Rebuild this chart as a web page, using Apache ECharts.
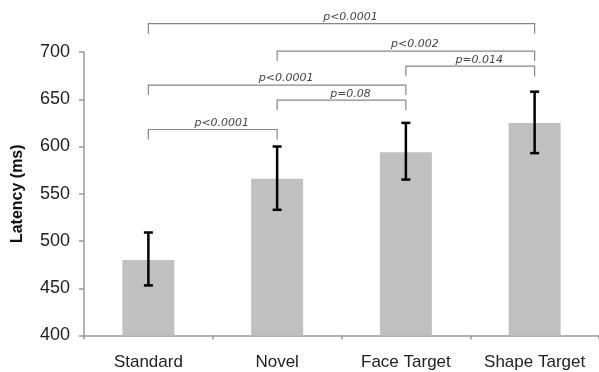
<!DOCTYPE html>
<html><head><meta charset="utf-8">
<script src="https://cdn.jsdelivr.net/npm/echarts@6/dist/echarts.min.js"></script>
<style>html,body{margin:0;padding:0;background:#fff}#c{width:599px;height:372px}</style>
</head><body><div id="c"></div>
<script>
// ---- data ----
const categories = ['Standard', 'Novel', 'Face Target', 'Shape Target'];
const meanLatency = [480, 566, 594, 625];
const errLow = [453, 533, 565, 593];
const errHigh = [509, 600, 625, 658];
const yMin = 400, yMax = 700, yStep = 50;
const bracketFrom = [0, 1, 2, 0, 1, 0];
const bracketTo = [3, 3, 3, 2, 2, 1];
const bracketLevel = [730, 701, 685, 665, 649, 618];
const bracketLabel = ['p<0.0001', 'p<0.002', 'p=0.014', 'p<0.0001', 'p=0.08', 'p<0.0001'];

// ---- chart ----
const chart = echarts.init(document.getElementById('c'), null, {renderer: 'canvas'});
const font = '"Liberation Sans", Arial, Helvetica, sans-serif';
const STEM = 10, CAP = 4.5, LABEL_SHIFT = 9;

chart.setOption({
  animation: false,
  backgroundColor: '#fff',
  grid: {left: 84, top: 52, width: 518, height: 283.5, containLabel: false},
  xAxis: {
    type: 'category', data: categories,
    axisLine: {lineStyle: {color: '#999', width: 1.5}},
    axisTick: {show: true, length: 4, alignWithLabel: false, lineStyle: {color: '#999', width: 1.5}},
    axisLabel: {interval: 0, fontSize: 17, color: '#222', margin: 18, fontFamily: font}
  },
  yAxis: {
    type: 'value', min: yMin, max: yMax, interval: yStep,
    name: 'Latency (ms)', nameLocation: 'middle', nameGap: 58, nameRotate: 90,
    nameTextStyle: {fontSize: 16, fontWeight: 'bold', color: '#111', fontFamily: font},
    axisLine: {show: true, lineStyle: {color: '#999', width: 1.5}},
    axisTick: {show: true, length: 5, lineStyle: {color: '#999', width: 1.5}},
    splitLine: {show: false},
    axisLabel: {fontSize: 18, color: '#222', margin: 14, fontFamily: font}
  },
  series: [
    {
      type: 'bar', data: meanLatency, barWidth: 52, z: 2,
      itemStyle: {color: '#c0c0c0'}, silent: true
    },
    {
      type: 'custom', clip: false, silent: true, z: 10,
      data: categories.map((c, i) => [i, errLow[i], errHigh[i]]),
      encode: {x: 0, y: [1, 2]},
      renderItem: function (params, api) {
        const i = api.value(0);
        const lo = api.coord([i, api.value(1)]);
        const hi = api.coord([i, api.value(2)]);
        const st = {stroke: '#000', lineWidth: 2.5};
        return {type: 'group', children: [
          {type: 'line', shape: {x1: lo[0], y1: lo[1], x2: hi[0], y2: hi[1]}, style: st},
          {type: 'line', shape: {x1: lo[0] - CAP, y1: lo[1], x2: lo[0] + CAP, y2: lo[1]}, style: st},
          {type: 'line', shape: {x1: hi[0] - CAP, y1: hi[1], x2: hi[0] + CAP, y2: hi[1]}, style: st}
        ]};
      }
    },
    {
      type: 'custom', clip: false, silent: true, z: 10,
      data: bracketLevel.map((h, k) => [bracketFrom[k], bracketTo[k], h]),
      encode: {x: [0, 1], y: 2},
      renderItem: function (params, api) {
        const k = params.dataIndex;
        const a = api.coord([api.value(0), api.value(2)]);
        const b = api.coord([api.value(1), api.value(2)]);
        return {type: 'group', children: [
          {type: 'polyline', shape: {points: [[a[0], a[1] + STEM], [a[0], a[1]], [b[0], b[1]], [b[0], b[1] + STEM]]},
           style: {stroke: '#888', lineWidth: 1.2, fill: null}},
          {type: 'text', x: (a[0] + b[0]) / 2 + LABEL_SHIFT, y: a[1] - 1,
           style: {text: bracketLabel[k], fill: '#444', fontSize: 11, fontStyle: 'italic',
                   fontFamily: '"DejaVu Sans", sans-serif', align: 'center', verticalAlign: 'bottom'}}
        ]};
      }
    }
  ]
});
</script></body></html>
